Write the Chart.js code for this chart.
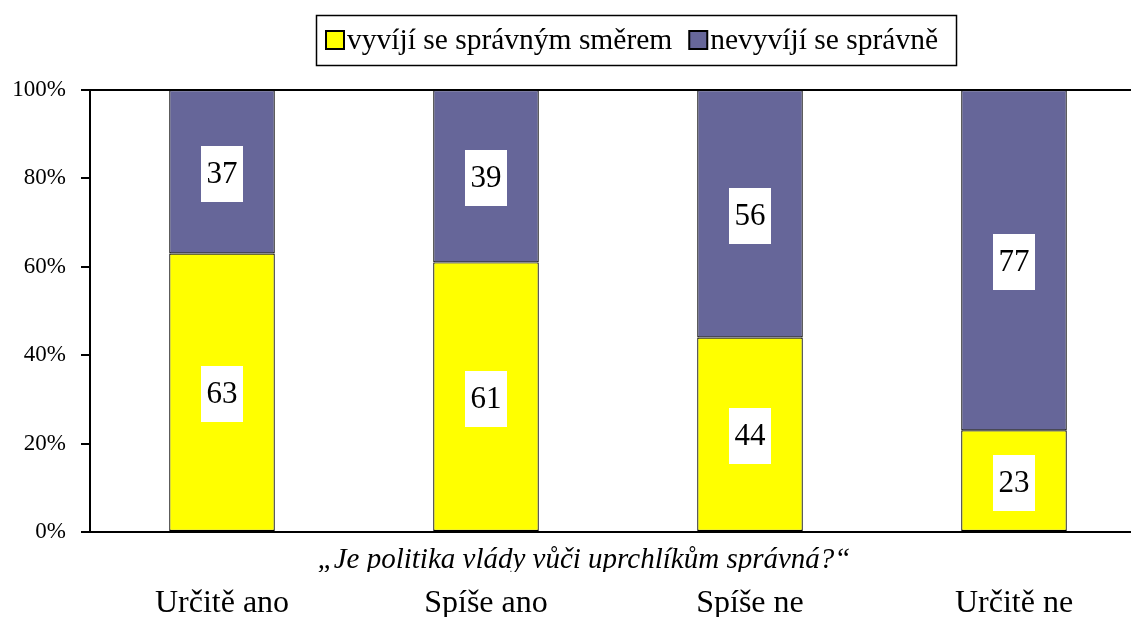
<!DOCTYPE html>
<html lang="cs">
<head>
  <meta charset="UTF-8" />
  <title>Politika vlády vůči uprchlíkům</title>
  <script src="https://cdn.jsdelivr.net/npm/chart.js"></script>
  <style>
    html, body {
      margin: 0;
      padding: 0;
      background: #ffffff;
      overflow: hidden;
    }
    #chart {
      display: block;
    }
  </style>
</head>
<body>

<canvas id="chart" width="1146" height="617"></canvas>

<script>
  // data
  const categories = ['Určitě ano', 'Spíše ano', 'Spíše ne', 'Určitě ne'];
  const seriesNames = ['vyvíjí se správným směrem', 'nevyvíjí se správně'];
  const rightDirection = [63, 61, 44, 23];
  const notRight = [37, 39, 56, 77];
  const yTicks = [0, 20, 40, 60, 80, 100];
  const axisTitle = '„Je politika vlády vůči uprchlíkům správná?“';

  const serif = "'Liberation Serif', 'Times New Roman', serif";
  const colors = ['#ffff00', '#666699'];

  // white boxes with the numbers inside each segment
  const valueBoxes = {
    id: 'valueBoxes',
    afterDatasetsDraw(chart) {
      const ctx = chart.ctx;
      ctx.save();
      ctx.font = '31px ' + serif;
      ctx.textAlign = 'center';
      ctx.textBaseline = 'middle';
      chart.data.datasets.forEach((ds, di) => {
        chart.getDatasetMeta(di).data.forEach((bar, i) => {
          const cx = bar.x;
          const cy = (bar.y + bar.base) / 2 + 2;
          const txt = String(ds.data[i]);
          const w = ctx.measureText(txt).width + 11;
          const h = 56;
          ctx.fillStyle = '#ffffff';
          ctx.fillRect(Math.round(cx - w / 2), Math.round(cy - h / 2), Math.round(w), h);
          ctx.fillStyle = '#000000';
          ctx.fillText(txt, cx, cy + 1);
        });
      });
      ctx.restore();
    }
  };

  // framed legend and the italic question above the category names
  const frameLegend = {
    id: 'frameLegend',
    afterDraw(chart) {
      const ctx = chart.ctx;
      ctx.save();
      ctx.font = '29.5px ' + serif;
      ctx.textBaseline = 'middle';
      let x = 326;
      const cy = 40;
      chart.data.datasets.forEach((ds, i) => {
        ctx.fillStyle = ds.backgroundColor;
        ctx.fillRect(x, cy - 9, 18, 18);
        ctx.lineWidth = 2;
        ctx.strokeStyle = '#000000';
        ctx.strokeRect(x, cy - 9, 18, 18);
        x += 21;
        ctx.fillStyle = '#000000';
        ctx.textAlign = 'left';
        ctx.fillText(ds.label, x, cy + 1);
        x += ctx.measureText(ds.label).width + 17;
      });
      ctx.lineWidth = 1.5;
      ctx.strokeStyle = '#000000';
      ctx.strokeRect(316.5, 15.5, x - 316 + 1, 50);

      // axis question, cut off at the bottom like in the source
      ctx.beginPath();
      ctx.rect(0, chart.chartArea.bottom + 10, chart.width, 30);
      ctx.clip();
      ctx.font = 'italic 29px ' + serif;
      ctx.textAlign = 'center';
      ctx.textBaseline = 'alphabetic';
      ctx.fillText(axisTitle, 584, 568);
      ctx.restore();
    }
  };

  new Chart(document.getElementById('chart'), {
    type: 'bar',
    data: {
      labels: categories,
      datasets: [
        {
          label: seriesNames[0],
          data: rightDirection,
          backgroundColor: colors[0],
          borderColor: '#000000',
          borderWidth: 1.2,
          borderSkipped: false
        },
        {
          label: seriesNames[1],
          data: notRight,
          backgroundColor: colors[1],
          borderColor: '#000000',
          borderWidth: 1.2,
          borderSkipped: false
        }
      ]
    },
    options: {
      responsive: false,
      animation: false,
      layout: {
        padding: { top: 90, right: 0, left: 0, bottom: 0 }
      },
      datasets: {
        bar: {
          barPercentage: 0.4,
          categoryPercentage: 1
        }
      },
      plugins: {
        legend: { display: false },
        tooltip: { enabled: false }
      },
      scales: {
        x: {
          stacked: true,
          grid: { display: false },
          border: { color: '#000000', width: 2 },
          ticks: {
            color: '#000000',
            padding: 44,
            font: { family: serif, size: 32 }
          },
          afterFit(scale) {
            scale.height = 85;
          }
        },
        y: {
          stacked: true,
          min: 0,
          max: 100,
          afterBuildTicks(scale) {
            scale.ticks = yTicks.map(v => ({ value: v }));
          },
          grid: {
            color: c => (c.tick && c.tick.value === 100 ? '#000000' : 'rgba(0,0,0,0)'),
            lineWidth: 2,
            tickColor: '#000000',
            tickLength: 9,
            tickWidth: 2
          },
          border: { color: '#000000', width: 2 },
          ticks: {
            color: '#000000',
            padding: 15,
            font: { family: serif, size: 23 },
            callback: v => v + '%'
          },
          afterFit(scale) {
            scale.width = 90;
          }
        }
      }
    },
    plugins: [valueBoxes, frameLegend]
  });
</script>

</body>
</html>
